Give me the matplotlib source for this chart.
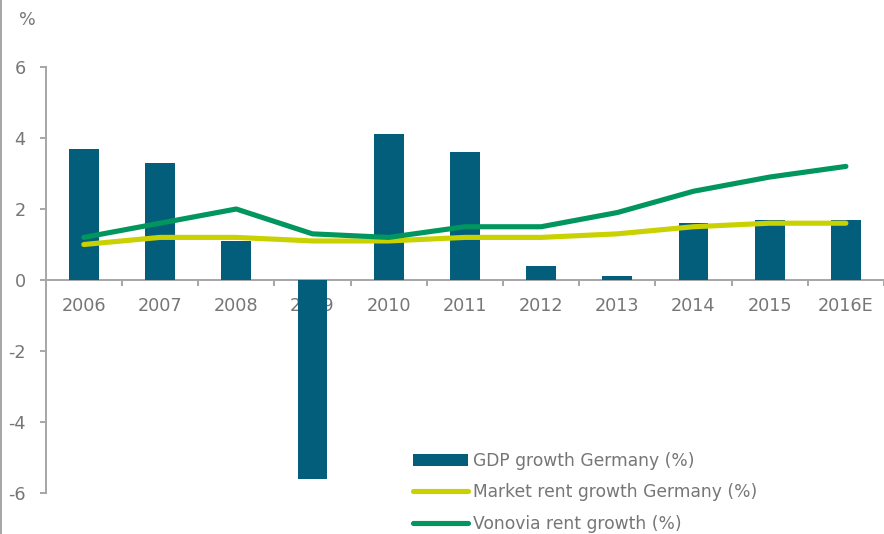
import matplotlib
matplotlib.use("Agg")
import matplotlib.pyplot as plt
from matplotlib.lines import Line2D
import numpy as np

years = ["2006", "2007", "2008", "2009", "2010", "2011", "2012", "2013", "2014", "2015", "2016E"]
gdp_growth = [3.7, 3.3, 1.1, -5.6, 4.1, 3.6, 0.4, 0.1, 1.6, 1.7, 1.7]
market_rent = [1.0, 1.2, 1.2, 1.1, 1.1, 1.2, 1.2, 1.3, 1.5, 1.6, 1.6]
vonovia_rent = [1.2, 1.6, 2.0, 1.3, 1.2, 1.5, 1.5, 1.9, 2.5, 2.9, 3.2]
labels = ["GDP growth Germany (%)", "Market rent growth Germany (%)", "Vonovia rent growth (%)"]

BAR = "#035E7B"
YEL = "#C9D200"
GRN = "#00965E"
TXT = "#767676"
AX = "#A6A6A6"

W, H = 884, 534
fig = plt.figure(figsize=(W / 100, H / 100), dpi=100)

left_px, right_px = 45.7, 884
top_px, bot_px = 67, 493
step = 77.0
ax = fig.add_axes([left_px / W, 1 - bot_px / H, (right_px - left_px) / W, (bot_px - top_px) / H])

x = np.arange(len(years))
b = ax.bar(x, gdp_growth, width=0.39, color=BAR, zorder=2, label=labels[0])
l1, = ax.plot(x, market_rent, color=YEL, lw=3.7, solid_capstyle="round", solid_joinstyle="round", zorder=3, label=labels[1])
l2, = ax.plot(x, vonovia_rent, color=GRN, lw=3.7, solid_capstyle="round", solid_joinstyle="round", zorder=3, label=labels[2])

ax.set_xlim(-0.5, -0.5 + (right_px - left_px) / step)
ax.set_ylim(-6, 6)
ax.set_yticks([-6, -4, -2, 0, 2, 4, 6])
ax.set_yticklabels(["-6", "-4", "-2", "0", "2", "4", "6"])
ax.set_xticks(x)
ax.set_xticklabels(years)
ax.set_xticks(np.arange(len(years) + 1) - 0.5, minor=True)

for s in ["top", "right"]:
    ax.spines[s].set_visible(False)
ax.spines["bottom"].set_position(("data", 0))
ax.spines["bottom"].set_color(AX)
ax.spines["left"].set_color(AX)
ax.spines["bottom"].set_linewidth(1.4)
ax.spines["left"].set_linewidth(1.4)
ax.spines["bottom"].set_zorder(1)

ax.tick_params(axis="x", which="major", length=0, pad=12.5, labelsize=12.7, labelcolor=TXT)
ax.tick_params(axis="x", which="minor", length=4, width=1.4, color=AX, direction="out")
ax.tick_params(axis="y", which="major", length=4, width=1.4, color=AX, pad=10.5, labelsize=12.7, labelcolor=TXT)
ax.set_facecolor("none")

fig.text(19 / W, 1 - 20 / H, "%", fontsize=12.7, color=TXT, ha="left", va="center")

fig.add_artist(Line2D([0.8 / W, 0.8 / W], [0, 1], color=AX, lw=1.4))

leg = fig.legend([b, l1, l2], labels, loc="upper left", bbox_to_anchor=(413 / W, 1 - 452 / H), frameon=False,
                 fontsize=12.3, handlelength=3.2, handletextpad=0.3, labelspacing=0.78,
                 borderpad=0, borderaxespad=0)
for t in leg.get_texts():
    t.set_color(TXT)

fig.savefig("out.png", dpi=100)
